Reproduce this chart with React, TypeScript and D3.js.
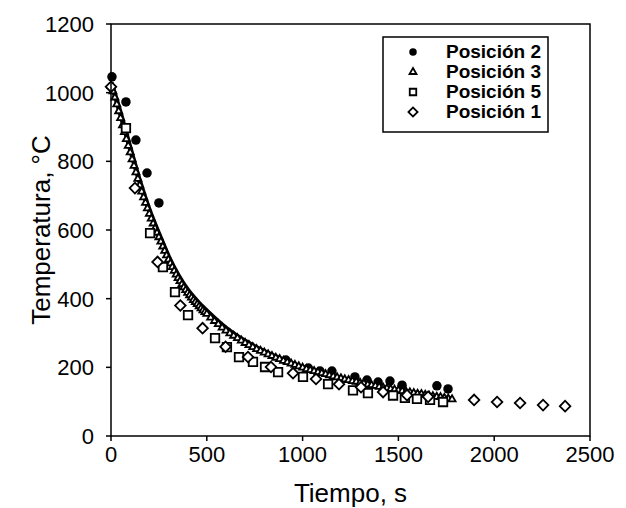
import React from "react";
import * as d3 from "d3";

// ---- Data ----
const P2_TIME = [5, 78, 130, 188, 250, 913, 1030, 1091, 1153, 1273, 1336, 1394, 1456, 1519, 1701, 1759];
const P2_TEMP = [1046, 973, 862, 766, 679, 221, 198, 189, 189, 172, 163, 157, 160, 148, 146, 137];

const P3_TIME = [...d3.range(0, 501, 10), ...d3.range(520, 1781, 20)];
const P3_TEMP = [
  1020, 1004, 986, 966, 946, 926, 905, 885, 865, 845,
  826, 806, 787, 768, 749, 730, 712, 695, 679, 663,
  647, 633, 619, 605, 592, 579, 566, 552, 539, 526,
  514, 503, 492, 481, 470, 460, 451, 442, 433, 425,
  417, 410, 403, 396, 390, 384, 378, 372, 366, 361,
  356,
  345, 335, 326, 316, 307, 299, 292, 285, 278, 271,
  265, 259, 253, 248, 243, 238, 233, 228, 224, 219,
  215, 211, 207, 203, 199, 195, 192, 189, 186, 183,
  180, 177, 174, 171, 168, 165, 163, 160, 158, 155,
  153, 150, 148, 146, 143, 141, 139, 137, 135, 133,
  131, 129, 127, 125, 123, 122, 120, 118, 116, 114,
  113, 111, 109, 107,
];

const P5_TIME = [78, 204, 271, 334, 402, 543, 605, 668, 741, 804, 872, 1002, 1133, 1263, 1341, 1472, 1534, 1597, 1665, 1733];
const P5_TEMP = [897, 591, 492, 419, 352, 285, 259, 230, 216, 201, 186, 172, 151, 133, 125, 118, 111, 108, 105, 99];

const P1_TIME = [0, 125, 243, 362, 478, 598, 715, 835, 950, 1070, 1190, 1305, 1420, 1545, 1655, 1895, 2015, 2135, 2255, 2370];
const P1_TEMP = [1017, 722, 507, 380, 314, 260, 230, 201, 183, 166, 151, 142, 128, 119, 114, 105, 99, 96, 90, 87];

const FIT_TIME = [0, 50, 100, 150, 200, 250, 300, 350, 400, 450, 500, 600, 700, 800, 900, 1000, 1100, 1200, 1300, 1400, 1500, 1600, 1700, 1780];
const FIT_TEMP = [1030, 938, 838, 741, 657, 588, 522, 468, 425, 392, 364, 314, 276, 246, 221, 200, 183, 168, 155, 143, 133, 124, 115, 108];

const X_TICKS = [0, 500, 1000, 1500, 2000, 2500];
const Y_TICKS = [0, 200, 400, 600, 800, 1000, 1200];

const LEGEND_LABELS = ["Posición 2", "Posición 3", "Posición 5", "Posición 1"];

const W = 626;
const H = 508;
const FONT = "'Liberation Sans', Arial, sans-serif";

type Kind = "circle" | "triangle" | "square" | "diamond";

function markerPath(kind: Kind, s: number): string {
  if (kind === "circle") return d3.symbol(d3.symbolCircle, Math.PI * (s / 2) ** 2)()!;
  if (kind === "triangle") return d3.symbol(d3.symbolTriangle, (Math.sqrt(3) / 4) * s * s)()!;
  return d3.symbol(d3.symbolSquare, s * s)()!;
}

function Marker({ kind, x, y, s }: { kind: Kind; x: number; y: number; s: number }) {
  const filled = kind === "circle";
  const rot = kind === "diamond" ? " rotate(45)" : "";
  return (
    <path
      d={markerPath(kind, s)}
      transform={`translate(${x},${y})${rot}`}
      fill={filled ? "#000" : "#fff"}
      stroke="#000"
      strokeWidth={filled ? 0 : 1.8}
    />
  );
}

export default function App() {
  const x = d3.scaleLinear().domain([0, 2500]).range([111, 590]);
  const y = d3.scaleLinear().domain([0, 1200]).range([436, 24]);

  const fitLine = d3
    .line<number>()
    .x((_, i) => x(FIT_TIME[i]))
    .y((d) => y(d))
    .curve(d3.curveMonotoneX)(FIT_TEMP)!;

  const series: { kind: Kind; t: number[]; v: number[]; s: number }[] = [
    { kind: "circle", t: P2_TIME, v: P2_TEMP, s: 9.5 },
    { kind: "triangle", t: P3_TIME, v: P3_TEMP, s: 7 },
    { kind: "square", t: P5_TIME, v: P5_TEMP, s: 8.5 },
    { kind: "diamond", t: P1_TIME, v: P1_TEMP, s: 7.5 },
  ];
  const legendKinds: Kind[] = ["circle", "triangle", "square", "diamond"];
  const legendSizes = [7.5, 7, 6.5, 6.5];

  return (
    <svg
      width={W}
      height={H}
      style={{ position: "absolute", left: 0, top: 0, background: "#fff" }}
      fontFamily={FONT}
    >
      <rect x={0} y={0} width={W} height={H} fill="#fff" />

      {/* fit line */}
      <path d={fitLine} fill="none" stroke="#000" strokeWidth={5} strokeLinejoin="round" />

      {/* markers */}
      {series.map((sr, si) => (
        <g key={si}>
          {sr.v.map((v, i) => (
            <Marker key={i} kind={sr.kind} x={x(sr.t[i])} y={y(v)} s={sr.s} />
          ))}
        </g>
      ))}

      {/* frame */}
      <rect x={x(0)} y={y(1200)} width={x(2500) - x(0)} height={y(0) - y(1200)} fill="none" stroke="#000" strokeWidth={1.5} />

      {/* x ticks */}
      {X_TICKS.map((t) => (
        <g key={t}>
          <line x1={x(t)} x2={x(t)} y1={y(0)} y2={y(0) + 5} stroke="#000" strokeWidth={1.5} />
          <text x={x(t)} y={462} textAnchor="middle" fontSize={22} fill="#000">
            {t}
          </text>
        </g>
      ))}

      {/* y ticks */}
      {Y_TICKS.map((v) => (
        <g key={v}>
          <line x1={x(0) - 5} x2={x(0)} y1={y(v)} y2={y(v)} stroke="#000" strokeWidth={1.5} />
          <text x={94} y={y(v) + 8} textAnchor="end" fontSize={22} fill="#000">
            {v}
          </text>
        </g>
      ))}

      {/* axis titles */}
      <text x={(x(0) + x(2500)) / 2} y={502} textAnchor="middle" fontSize={26} fill="#000">
        Tiempo, s
      </text>
      <text
        transform={`translate(50,${(y(0) + y(1200)) / 2}) rotate(-90)`}
        textAnchor="middle"
        fontSize={26}
        fill="#000"
      >
        Temperatura, °C
      </text>

      {/* legend */}
      <rect x={383} y={37} width={165} height={95} fill="#fff" stroke="#000" strokeWidth={1.5} />
      {LEGEND_LABELS.map((lab, i) => (
        <g key={lab}>
          <Marker kind={legendKinds[i]} x={413} y={52 + i * 20} s={legendSizes[i]} />
          <text x={446} y={58 + i * 20} fontSize={19} fontWeight="bold" fill="#000">
            {lab}
          </text>
        </g>
      ))}
    </svg>
  );
}
